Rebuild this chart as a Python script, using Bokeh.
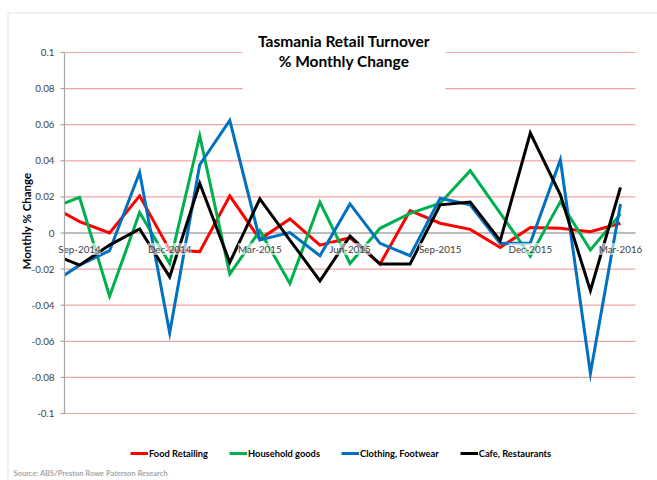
import math
from bokeh.plotting import figure
from bokeh.models import Range1d, Label, BoxAnnotation, Legend, LegendItem, ColumnDataSource
from bokeh.embed import file_html
from bokeh.resources import INLINE

months = ["Aug-2014", "Sep-2014", "Oct-2014", "Nov-2014", "Dec-2014", "Jan-2015", "Feb-2015",
          "Mar-2015", "Apr-2015", "May-2015", "Jun-2015", "Jul-2015", "Aug-2015", "Sep-2015",
          "Oct-2015", "Nov-2015", "Dec-2015", "Jan-2016", "Feb-2016", "Mar-2016"]
food_retailing = [0.0155, 0.0063, 0.0000, 0.0206, -0.0095, -0.0103, 0.0206, -0.0035, 0.0078, -0.0067,
                  -0.0026, -0.0172, 0.0124, 0.0054, 0.0020, -0.0080, 0.0030, 0.0026, 0.0007, 0.0054]
household_goods = [0.0132, 0.0198, -0.0350, 0.0113, -0.0169, 0.0539, -0.0228, 0.0013, -0.0280, 0.0170,
                   -0.0169, 0.0026, 0.0109, 0.0165, 0.0345, 0.0110, -0.0128, 0.0174, -0.0094, 0.0106]
clothing_footwear = [-0.0288, -0.0178, -0.0098, 0.0335, -0.0553, 0.0378, 0.0624, -0.0039, 0.0002, -0.0126,
                     0.0161, -0.0057, -0.0126, 0.0193, 0.0156, -0.0058, -0.0055, 0.0406, -0.0778, 0.0161]
cafe_restaurants = [-0.0110, -0.0178, -0.0067, 0.0022, -0.0243, 0.0276, -0.0163, 0.0189, -0.0039, -0.0265,
                    -0.0017, -0.0172, -0.0172, 0.0156, 0.0172, -0.0042, 0.0554, 0.0211, -0.0319, 0.0252]
series_names = ["Food Retailing", "Household goods", "Clothing, Footwear", "Cafe, Restaurants"]
series_colors = ["#FF0000", "#00B050", "#0070C0", "#000000"]
tick_months = ["Sep-2014", "Dec-2014", "Mar-2015", "Jun-2015", "Sep-2015", "Dec-2015", "Mar-2016"]
y_ticks = [-0.1, -0.08, -0.06, -0.04, -0.02, 0.0, 0.02, 0.04, 0.06, 0.08, 0.1]
y_tick_labels = ["-0.1", "-0.08", "-0.06", "-0.04", "-0.02", "0", "0.02", "0.04", "0.06", "0.08", "0.1"]
y_axis_title = "Monthly % Change"
title_lines = ["Tasmania Retail Turnover", "% Monthly Change"]
source_text = "Source: ABS/Preston Rowe Paterson Research"

# ---- layout (pixel geometry of the canvas) ----
W, H = 657, 480
PLOT_L, PLOT_R, PLOT_T, PLOT_B = 64, 635, 52, 413
n_cat = len(months) - 1                      # categories shown (Sep-2014 .. Mar-2016)
cat_px = (PLOT_R - PLOT_L) / n_cat
x_lo, x_hi = 0.5, len(months) - 0.5
y_lo, y_hi = y_ticks[0], y_ticks[-1]
unit_px = (PLOT_B - PLOT_T) / (y_hi - y_lo)
zero_px = PLOT_T + y_hi * unit_px


def px_x(px):
    return x_lo + (px - PLOT_L) / cat_px


def px_y(py):
    return (zero_px - py) / unit_px


p = figure(width=W, height=H, output_backend="svg", toolbar_location=None,
           x_axis_location=None, y_axis_location=None,
           x_range=Range1d(px_x(0), px_x(W)), y_range=Range1d(px_y(H), px_y(0)),
           min_border=0, min_border_left=0, min_border_right=0, min_border_top=0, min_border_bottom=0)
p.outline_line_color = None
p.background_fill_color = "white"
p.border_fill_color = "white"
p.grid.visible = False

# outer chart border
p.add_layout(BoxAnnotation(left=px_x(7.5), right=px_x(W + 50), top=px_y(12.5), bottom=px_y(H + 50),
                           fill_alpha=0, line_color="#A6A6A6", line_width=1, level="underlay"))

# horizontal gridlines (all but zero), then zero line
grid_y = [t for t in y_ticks if t != 0]
p.segment(x0=[x_lo] * len(grid_y), x1=[x_hi] * len(grid_y), y0=grid_y, y1=grid_y,
          line_color="#F4A3A3", line_width=1.2)
p.segment(x0=[x_lo], x1=[x_hi], y0=[0.0], y1=[0.0], line_color="#A6A6A6", line_width=1.3)

# data lines
data = [food_retailing, household_goods, clothing_footwear, cafe_restaurants]
x = list(range(len(months)))
items = []
for name, vals, col in zip(series_names, data, series_colors):
    r = p.line(x, vals, line_color=col, line_width=3, line_join="miter")
    items.append(LegendItem(label=name, renderers=[r]))

# hide the part of the lines left of the plot area
p.add_layout(BoxAnnotation(left=px_x(38), right=x_lo, bottom=px_y(330), top=px_y(150),
                           fill_color="white", fill_alpha=1, line_alpha=0, level="annotation"))

# y axis line, ticks and labels
p.segment(x0=[x_lo], x1=[x_lo], y0=[y_lo], y1=[y_hi], line_color="#A6A6A6", line_width=1.2,
          level="overlay")
p.segment(x0=[px_x(PLOT_L - 4)] * len(y_ticks), x1=[x_lo] * len(y_ticks), y0=y_ticks, y1=y_ticks,
          line_color="#A6A6A6", line_width=1.2, level="overlay")
ysrc = ColumnDataSource(dict(x=[x_lo] * len(y_ticks), y=y_ticks, t=y_tick_labels))
p.text(x="x", y="y", text="t", source=ysrc, x_offset=-10, text_align="right", text_baseline="middle",
       text_font={"value": "Lato"}, text_font_size="9.8px", text_color="#404040", level="overlay")

# y axis title
p.add_layout(Label(x=px_x(25.5), y=px_y(220.5), text=y_axis_title, angle=math.pi / 2,
                   text_align="center", text_baseline="middle", text_font="Lato",
                   text_font_style="bold", text_font_size="11.5px", text_color="#000000", level="overlay"))

# x category labels on the zero line
for m in tick_months:
    p.add_layout(Label(x=months.index(m), y=0, y_offset=-16, text=m, text_align="center",
                       text_baseline="middle", text_font="Lato", text_font_size="9.8px",
                       text_color="#404040", background_fill_color="white", background_fill_alpha=0.6))

# white box behind the title and the title itself
p.add_layout(BoxAnnotation(left=px_x(242), right=px_x(445), bottom=px_y(104), top=px_y(28),
                           fill_color="white", fill_alpha=1.0, line_alpha=0, level="annotation"))
for i, (t, py) in enumerate(zip(title_lines, [40, 60])):
    p.add_layout(Label(x=px_x(343.5), y=px_y(py), text=t, text_align="center",
                       text_baseline="middle", text_font="Lato", text_font_style="bold",
                       text_font_size="15.5px", text_color="#000000"))

# source note
p.add_layout(Label(x=px_x(13), y=px_y(473), text=source_text, text_align="left",
                   text_baseline="middle", text_font="Lato", text_font_style="bold",
                   text_font_size="7.5px", text_color="#A6A6A6"))

# legend below plot area
leg_h = 12
legend = Legend(items=items, orientation="horizontal", location=(130, H - 453 - leg_h / 2),
                glyph_width=18, glyph_height=leg_h, label_height=leg_h, label_standoff=1, spacing=21,
                padding=0, margin=0, border_line_alpha=0, background_fill_alpha=0,
                label_text_font="Lato", label_text_font_style="bold", label_text_font_size="9.3px",
                label_text_color="#000000")
p.add_layout(legend, "center")

open("out.html", "w").write(file_html(p, INLINE))
